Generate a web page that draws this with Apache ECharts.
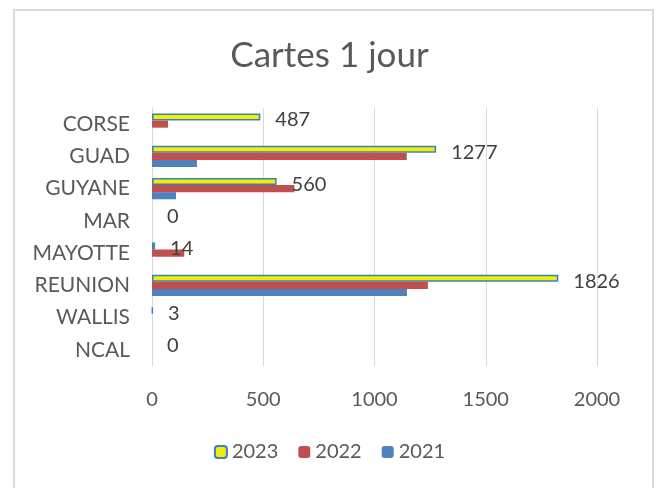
<!DOCTYPE html>
<html>
<head>
<meta charset="utf-8">
<script src="https://cdn.jsdelivr.net/npm/echarts@6/dist/echarts.min.js"></script>
<style>
  html, body { margin: 0; padding: 0; background: #fff; }
  #frame { position: absolute; left: 13px; top: 9px; width: 637px; height: 490px; border: 2px solid #d9d9d9; border-bottom: none; }
  #chart { position: absolute; left: 0; top: 0; width: 659px; height: 488px; }
</style>
</head>
<body>
<div id="frame"></div>
<div id="chart"></div>
<script>
const categories = ['CORSE', 'GUAD', 'GUYANE', 'MAR', 'MAYOTTE', 'REUNION', 'WALLIS', 'NCAL']
const data2023 = [487, 1277, 560, 0, 14, 1826, 3, 0]
const data2022 = [72, 1145, 640, 0, 145, 1240, 0, 0]
const data2021 = [0, 202, 108, 0, 0, 1146, 0, 0]
const xTicks = [0, 500, 1000, 1500, 2000]

const font = 'Lato'
const textColor = '#595959'

const chart = echarts.init(document.getElementById('chart'))

// no border line on empty bars
const withBorder = arr => arr.map(v => v === 0 ? { value: v, itemStyle: { borderWidth: 0 } } : v)

const option = {
  backgroundColor: 'transparent',
  title: {
    text: 'Cartes 1 jour',
    left: 'center',
    top: 33,
    textStyle: { fontFamily: font, fontSize: 35, fontWeight: 'normal', color: textColor }
  },
  legend: {
    data: ['2023', '2022', '2021'],
    bottom: 21,
    left: 'center',
    itemWidth: 12,
    itemHeight: 12,
    itemGap: 20,
    textStyle: { fontFamily: font, fontSize: 20, color: textColor }
  },
  grid: { left: 152, right: 62, top: 108, bottom: 122 },
  xAxis: {
    type: 'value',
    min: xTicks[0],
    max: xTicks[xTicks.length - 1],
    interval: 500,
    axisLine: { show: false },
    axisTick: { show: false },
    splitLine: { lineStyle: { color: '#d9d9d9', width: 1 } },
    axisLabel: { fontFamily: font, fontSize: 20, color: textColor, margin: 24, formatter: v => String(v) }
  },
  yAxis: {
    type: 'category',
    data: categories,
    inverse: true,
    axisLine: { lineStyle: { color: '#d9d9d9', width: 1 } },
    axisTick: { show: false },
    axisLabel: { fontFamily: font, fontSize: 21, color: textColor, margin: 22 }
  },
  series: [
    {
      name: '2023',
      type: 'bar',
      data: withBorder(data2023),
      barGap: '0%',
      barCategoryGap: '34%',
      itemStyle: { color: '#f0ef00', borderColor: '#3a7fc6', borderWidth: 1.5 },
      label: { show: true, position: 'right', distance: 15, offset: [0, 3], fontFamily: font, fontSize: 20, color: '#404040' }
    },
    {
      name: '2022',
      type: 'bar',
      data: data2022,
      barGap: '0%',
      barCategoryGap: '34%',
      itemStyle: { color: '#c0504d' }
    },
    {
      name: '2021',
      type: 'bar',
      data: data2021,
      barGap: '0%',
      barCategoryGap: '34%',
      itemStyle: { color: '#4f81bd' }
    }
  ]
}

chart.setOption(option)
</script>
</body>
</html>
